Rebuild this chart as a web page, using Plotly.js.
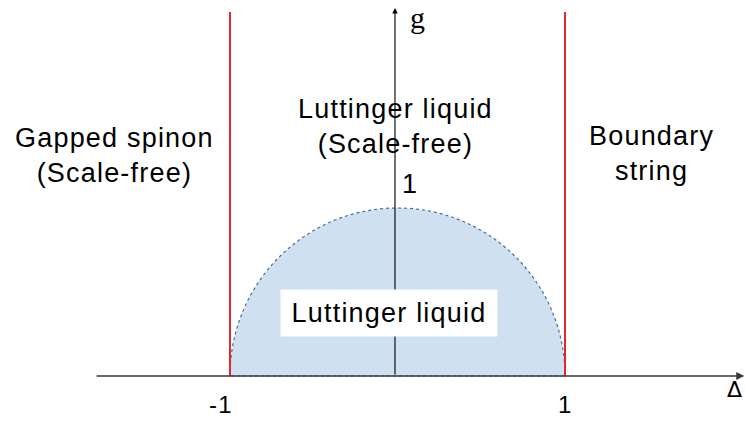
<!DOCTYPE html>
<html>
<head>
<meta charset="utf-8">
<script src="https://cdn.plot.ly/plotly-3.0.1.min.js"></script>
<style>
html, body { margin: 0; padding: 0; background: #fff; }
#chart { width: 745px; height: 421px; }
.annotation-text { letter-spacing: 1.2px; }
</style>
</head>
<body>
<div id="chart"></div>
<script>
// ---- data ----
const phaseBoundaries = [-1, 1];          // Δ values of the red boundary lines
const boundaryTop = 2.167;                // g value where boundary lines end
const domeTop = 1;                        // g at Δ = 0 for the Luttinger dome
const tickValues = [-1, 1];
const tickLabels = ['-1', '1'];
const gTickValue = 1;
const gTickLabel = '1';
const regionLabels = ['Gapped spinon<br>(Scale-free)', 'Luttinger liquid<br>(Scale-free)', 'Boundary<br>string'];
const domeLabel = 'Luttinger liquid';
const xAxisName = 'Δ';
const yAxisName = 'g';

// ---- layout helpers ----
const FONT = 'Liberation Sans, Arial, sans-serif';
const SERIF = 'Liberation Serif, DejaVu Serif, serif';
const xr = [-2.3731, 2.0746];
const yr = [-0.2679, 2.2381];

const traces = phaseBoundaries.map(b => ({
  type: 'scatter', mode: 'lines',
  x: [b, b], y: [0, boundaryTop],
  line: { color: 'rgb(226,40,40)', width: 2 },
  hoverinfo: 'skip', showlegend: false
}));

// half-disc built with cubic Bezier quarter arcs
const k = 0.5523;
const L = phaseBoundaries[0], R = phaseBoundaries[1];
const cx = (L + R) / 2, r = (R - L) / 2, h = domeTop;
const domePath = `M ${L},0 C ${L},${k*h} ${cx - k*r},${h} ${cx},${h} ` +
                 `C ${cx + k*r},${h} ${R},${k*h} ${R},0 Z`;

const shapes = [{
  type: 'path', path: domePath, xref: 'x', yref: 'y', layer: 'below',
  fillcolor: 'rgb(207,224,241)',
  line: { color: 'rgb(70,110,160)', width: 1.2, dash: 'dot' }
}];

const txt = (size, fam) => ({ family: fam || FONT, size: size, color: '#000' });

const annotations = [
  // horizontal axis arrow
  { x: 2.07, y: 0, ax: -1.806, ay: 0, xref: 'x', yref: 'y', axref: 'x', ayref: 'y',
    text: '', showarrow: true, arrowhead: 2, arrowsize: 1, arrowwidth: 1.6, arrowcolor: '#3a3a3a', standoff: 0 },
  // vertical axis arrow
  { x: -0.015, y: 2.19, ax: -0.015, ay: 0, xref: 'x', yref: 'y', axref: 'x', ayref: 'y',
    text: '', showarrow: true, arrowhead: 2, arrowsize: 1, arrowwidth: 1.1, arrowcolor: '#000', standoff: 0 },
  // region labels
  { x: -1.687, y: 1.3125, xref: 'x', yref: 'y', text: regionLabels[0], showarrow: false,
    font: txt(27), xanchor: 'center', yanchor: 'middle', align: 'center' },
  { x: -0.012, y: 1.488, xref: 'x', yref: 'y', text: regionLabels[1], showarrow: false,
    font: txt(27), xanchor: 'center', yanchor: 'middle', align: 'center' },
  { x: 1.519, y: 1.324, xref: 'x', yref: 'y', text: regionLabels[2], showarrow: false,
    font: txt(27), xanchor: 'center', yanchor: 'middle', align: 'center' },
  // dome label with white box
  { x: -0.05, y: 0.375, xref: 'x', yref: 'y', text: domeLabel, showarrow: false,
    font: txt(27), bgcolor: '#ffffff', borderpad: 0, width: 216, height: 46,
    xanchor: 'center', yanchor: 'middle', align: 'center', valign: 'middle' },
  // g tick label
  { x: 0, y: gTickValue, xref: 'x', yref: 'y', text: gTickLabel, showarrow: false,
    font: txt(27), xanchor: 'center', yanchor: 'middle', xshift: 12, yshift: 24 },
  // axis names
  { x: 0, y: 2.238, xref: 'x', yref: 'y', text: yAxisName, showarrow: false,
    font: txt(30, SERIF), xanchor: 'center', yanchor: 'middle', xshift: 20, yshift: -17 },
  { x: 2.0746, y: 0, xref: 'x', yref: 'y', text: xAxisName, showarrow: false,
    font: txt(22, 'DejaVu Sans, sans-serif'), xanchor: 'center', yanchor: 'middle', xshift: -10, yshift: -14 }
];

tickValues.forEach((v, i) => {
  annotations.push({
    x: v, y: 0, xref: 'x', yref: 'y', text: tickLabels[i], showarrow: false,
    font: txt(24), xanchor: 'center', yanchor: 'middle',
    xshift: v < 0 ? -9 : 0, yshift: -29
  });
});

const layout = {
  width: 745, height: 421,
  margin: { l: 0, r: 0, t: 0, b: 0, pad: 0 },
  paper_bgcolor: '#ffffff', plot_bgcolor: '#ffffff',
  showlegend: false, hovermode: false,
  xaxis: { range: xr, visible: false, fixedrange: true },
  yaxis: { range: yr, visible: false, fixedrange: true },
  shapes: shapes,
  annotations: annotations,
  font: { family: FONT }
};

Plotly.newPlot('chart', traces, layout, { staticPlot: true, displayModeBar: false });
</script>
</body>
</html>
